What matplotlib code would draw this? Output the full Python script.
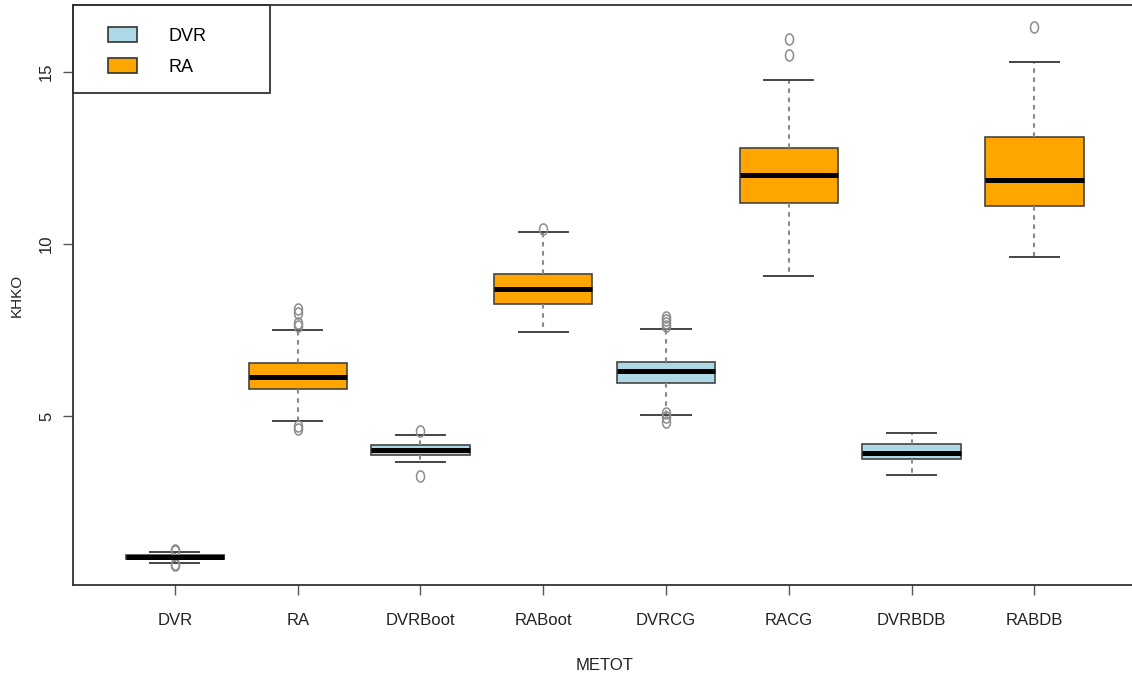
import numpy as np
import matplotlib
matplotlib.use("Agg")
import matplotlib.pyplot as plt
from matplotlib.path import Path
from matplotlib.patches import Patch, Rectangle

# ---- data ----
methods = ["DVR", "RA", "DVRBoot", "RABoot", "DVRCG", "RACG", "DVRBDB", "RABDB"]
groups = ["DVR", "RA", "DVR", "RA", "DVR", "RA", "DVR", "RA"]
medians = [0.90, 6.13, 4.01, 8.70, 6.31, 12.00, 3.93, 11.86]
q1 = [0.84, 5.79, 3.87, 8.27, 5.96, 11.19, 3.75, 11.10]
q3 = [0.95, 6.54, 4.16, 9.13, 6.57, 12.79, 4.19, 13.11]
whislo = [0.73, 4.85, 3.66, 7.45, 5.03, 9.07, 3.28, 9.62]
whishi = [1.05, 7.50, 4.45, 10.35, 7.53, 14.77, 4.50, 15.29]
fliers = [
    [1.10, 1.08, 0.70, 0.67],
    [8.10, 8.00, 7.70, 7.62, 4.70, 4.62],
    [4.58, 3.25],
    [10.45],
    [7.88, 7.80, 7.72, 7.62, 5.09, 4.98, 4.82],
    [15.96, 15.49],
    [],
    [16.31],
]
group_colors = {"DVR": "#ADD8E6", "RA": "#FFA500"}
yticks = [5, 10, 15]
xlabel = "METOT"
ylabel = "KHKO"

# ---- figure ----
W, H = 1132, 679
fig = plt.figure(figsize=(W / 100, H / 100), dpi=100)
left, right, bottom, top = 73, 1132, 585, 5
ax = fig.add_axes([left / W, 1 - bottom / H, (right - left) / W, (bottom - top) / H])

narrow = ["Liberation Sans Narrow", "Liberation Sans", "DejaVu Sans"]
regular = ["Liberation Sans", "DejaVu Sans"]

stats = []
for i, m in enumerate(methods):
    stats.append(dict(med=medians[i], q1=q1[i], q3=q3[i], whislo=whislo[i],
                      whishi=whishi[i], fliers=fliers[i], label=m))

# elliptical (vertically stretched) open-circle marker like the reference
th = np.linspace(0, 2 * np.pi, 60)
ell = Path(np.column_stack([0.72 * np.cos(th), np.sin(th)]), closed=True)

positions = np.arange(1, len(methods) + 1)
bp = ax.bxp(stats, positions=positions, widths=0.8, patch_artist=True,
            showfliers=True,
            boxprops=dict(edgecolor="#444444", linewidth=1.2),
            medianprops=dict(color="black", linewidth=3.6, solid_capstyle="butt"),
            whiskerprops=dict(color="#8a8a8a", linewidth=1.5, linestyle=(0, (2.2, 2.2))),
            capprops=dict(color="#444444", linewidth=1.4),
            flierprops=dict(marker=ell, markersize=8, markerfacecolor="none",
                            markeredgecolor="#8c8c8c", markeredgewidth=1.1,
                            linestyle="none"),
            capwidths=0.4)
for patch, g in zip(bp["boxes"], groups):
    patch.set_facecolor(group_colors[g])

# axes limits mapped to the reference pixel layout
ax.set_xlim(0.17, 8.795)
ax.set_ylim(0.09, 16.95)
ax.set_yticks(yticks)
ax.set_yticklabels([str(t) for t in yticks], rotation=90, va="center",
                   fontsize=12, family=regular, color="#222222")
ax.set_xticks(positions)
ax.set_xticklabels(methods, fontsize=12, family=narrow, color="#222222")
ax.tick_params(axis="both", length=7.5, width=1.0, color="#555555")
ax.tick_params(axis="x", pad=13)
ax.tick_params(axis="y", pad=6)

for s in ["left", "bottom", "top"]:
    ax.spines[s].set_linewidth(1.3)
    ax.spines[s].set_color("#333333")
ax.spines["right"].set_visible(False)

ax.set_xlabel(xlabel, fontsize=12, family=narrow, color="#222222")
ax.xaxis.set_label_coords((605 - left) / (right - left), -(666 - bottom) / (bottom - top))
ax.set_ylabel(ylabel, fontsize=11, family=regular, color="#222222")
ax.yaxis.set_label_coords(-(left - 17) / (right - left), 0.5)
ax.yaxis.label.set_va("center")
ax.xaxis.label.set_va("center")

# legend
handles = [Patch(facecolor=group_colors[g], edgecolor="#333333", linewidth=1.2, label=g)
           for g in ["DVR", "RA"]]
leg = ax.legend(handles=handles, loc="upper left", frameon=False,
                bbox_to_anchor=(103 / W, 1 - 22 / H), bbox_transform=fig.transFigure,
                prop=dict(family=narrow, size=13),
                handlelength=1.6, handleheight=0.85, handletextpad=1.7,
                labelspacing=0.75, borderpad=0.3, borderaxespad=0)
fig.patches.append(Rectangle((73 / W, 1 - 93 / H), (270 - 73) / W, (93 - 5) / H,
                             transform=fig.transFigure, fill=False,
                             edgecolor="#333333", linewidth=1.3))

fig.savefig("out.png", dpi=100)
